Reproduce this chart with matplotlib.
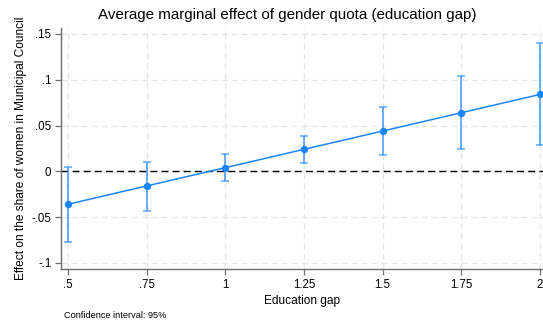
import matplotlib
matplotlib.use("Agg")
import matplotlib.pyplot as plt
import numpy as np

plt.rcParams['font.family'] = ['Liberation Sans', 'DejaVu Sans']

# Education gap values and marginal effects with 95% CI
edu_gap = [0.5, 0.75, 1.0, 1.25, 1.5, 1.75, 2.0]
effect = [-0.036, -0.016, 0.004, 0.024, 0.044, 0.064, 0.084]
ci_low = [-0.077, -0.043, -0.011, 0.009, 0.018, 0.024, 0.029]
ci_high = [0.005, 0.0105, 0.019, 0.039, 0.070, 0.104, 0.140]

xtick_vals = [0.5, 0.75, 1.0, 1.25, 1.5, 1.75, 2.0]
xtick_labels = ['.5', '.75', '1', '1.25', '1.5', '1.75', '2']
ytick_vals = [0.15, 0.1, 0.05, 0.0, -0.05, -0.1]
ytick_labels = ['.15', '.1', '.05', '0', '-.05', '-.1']

blue = '#1a85ff'
axis_gray = '#6e6e6e'

fig = plt.figure(figsize=(5.43, 3.23), dpi=100)
ax = fig.add_axes([0.1123, 0.1663, 0.8877, 0.7483])

x = np.array(edu_gap)
y = np.array(effect)
lo = np.array(ci_low)
hi = np.array(ci_high)

ax.axhline(0, color='black', lw=1.0, ls=(0, (5, 3)), zorder=2)
ax.errorbar(x, y, yerr=[y - lo, hi - y], fmt='none', ecolor=blue, alpha=0.65,
            elinewidth=1.4, capsize=3, capthick=1.2, zorder=3)
ax.plot(x, y, color=blue, lw=1.1, marker='o', ms=4.3, zorder=4)

ax.set_xlim(0.478, 2.0095)
ax.set_ylim(-0.107, 0.157)
ax.set_xticks(xtick_vals)
ax.set_xticklabels(xtick_labels)
ax.set_yticks(ytick_vals)
ax.set_yticklabels(ytick_labels)

ax.grid(True, color='#e6e6e6', ls=(0, (5, 3)), lw=0.9, zorder=0)
ax.set_axisbelow(True)

for side in ['top', 'right']:
    ax.spines[side].set_visible(False)
for side in ['left', 'bottom']:
    ax.spines[side].set_color(axis_gray)
    ax.spines[side].set_linewidth(1.0)

ax.tick_params(axis='both', direction='out', length=4, width=0.9, color=axis_gray,
               labelsize=8.3, pad=3)

ax.set_xlabel('Education gap', fontsize=8.6, labelpad=3)
ax.set_ylabel('Effect on the share of women in Municipal Council', fontsize=8.6, labelpad=3)

fig.text(287 / 543, 1 - 15 / 323, 'Average marginal effect of gender quota (education gap)',
         fontsize=10.9, ha='center', va='center')
fig.text(0.118, 1 - 315 / 323, 'Confidence interval: 95%', fontsize=6.6, ha='left', va='center')

fig.savefig('out.png', dpi=100)
